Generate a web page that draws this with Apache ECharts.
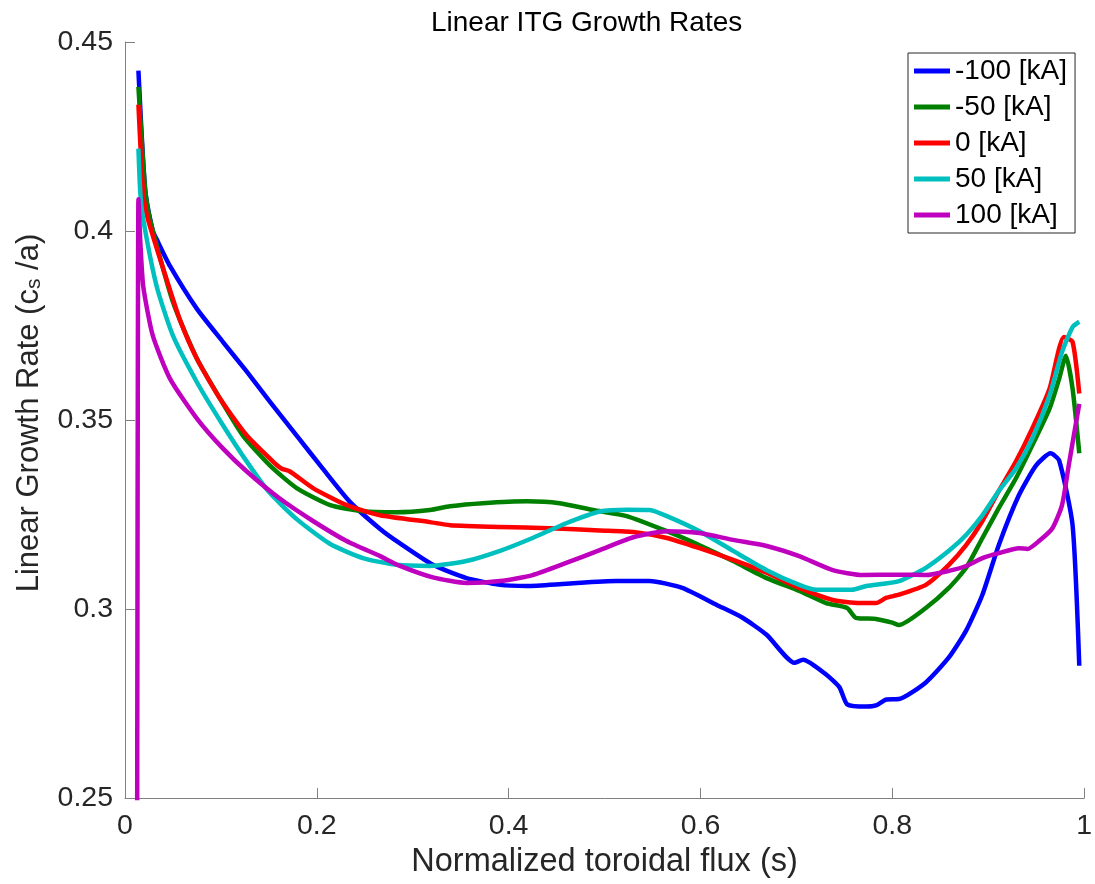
<!DOCTYPE html>
<html>
<head>
<meta charset="utf-8">
<script src="https://cdn.jsdelivr.net/npm/echarts@6/dist/echarts.min.js"></script>
<style>
  html, body { margin: 0; padding: 0; background: #fff; }
  #chart { width: 1095px; height: 884px; }
</style>
</head>
<body>
<div id="chart"></div>
<script>
// legend names
const names = ['-100 [kA]', '-50 [kA]', '0 [kA]', '50 [kA]', '100 [kA]']
const colors = ['#0000ff', '#008000', '#ff0000', '#00bfbf', '#bf00bf']

// [normalized toroidal flux, growth rate]
const iMinus100 = [
  [0.014,0.4424],[0.021,0.411],[0.029,0.400],[0.033,0.3978],[0.047,0.3907],[0.075,0.3794],
  [0.102,0.3707],[0.127,0.3628],[0.151,0.3549],[0.179,0.3459],[0.206,0.3372],[0.234,0.3285],
  [0.266,0.3212],[0.286,0.3175],[0.321,0.3117],[0.356,0.3082],[0.391,0.3064],[0.419,0.3061],
  [0.460,0.3067],[0.512,0.3074],[0.547,0.3074],[0.581,0.3056],[0.617,0.3011],[0.644,0.2977],
  [0.669,0.2932],[0.698,0.2858],[0.707,0.2866],[0.731,0.2827],[0.745,0.2793],[0.753,0.2748],
  [0.773,0.2742],[0.783,0.2745],[0.794,0.2761],[0.807,0.2762],[0.835,0.2806],[0.859,0.2872],
  [0.877,0.2943],[0.894,0.3038],[0.911,0.3169],[0.932,0.3301],[0.950,0.3380],[0.965,0.3412],
  [0.974,0.3393],[0.988,0.3222],[0.995,0.2850]
]
const iMinus50 = [
  [0.014,0.4381],[0.021,0.411],[0.026,0.4031],[0.050,0.3812],[0.075,0.3662],[0.099,0.3557],
  [0.123,0.3459],[0.151,0.3380],[0.179,0.3320],[0.214,0.3275],[0.248,0.3259],[0.283,0.3256],
  [0.318,0.3262],[0.339,0.3272],[0.373,0.3280],[0.419,0.3285],[0.453,0.3280],[0.488,0.3262],
  [0.523,0.3246],[0.565,0.3206],[0.599,0.3169],[0.634,0.3127],[0.669,0.3082],[0.703,0.3048],
  [0.731,0.3016],[0.753,0.3003],[0.762,0.2977],[0.783,0.2974],[0.800,0.2964],[0.807,0.2958],
  [0.835,0.3003],[0.859,0.3056],[0.877,0.3109],[0.894,0.3188],[0.911,0.3267],[0.929,0.3346],
  [0.946,0.3433],[0.964,0.3530],[0.974,0.3609],[0.981,0.3670],[0.988,0.3583],[0.995,0.3412]
]
const iZero = [
  [0.014,0.4334],[0.019,0.410],[0.024,0.4031],[0.040,0.3899],[0.057,0.3767],[0.075,0.3662],
  [0.099,0.3557],[0.127,0.3459],[0.154,0.3391],[0.163,0.3372],[0.172,0.3364],[0.196,0.3320],
  [0.231,0.3275],[0.266,0.3248],[0.318,0.3230],[0.339,0.3222],[0.391,0.3217],[0.443,0.3214],
  [0.495,0.3208],[0.530,0.3204],[0.565,0.3188],[0.599,0.3161],[0.634,0.3130],[0.669,0.3096],
  [0.703,0.3056],[0.738,0.3024],[0.766,0.3016],[0.783,0.3016],[0.794,0.3030],[0.807,0.3038],
  [0.835,0.3064],[0.859,0.3117],[0.877,0.3169],[0.894,0.3233],[0.911,0.3312],[0.929,0.3391],
  [0.946,0.3478],[0.964,0.3583],[0.979,0.3720],[0.988,0.3707],[0.995,0.3570]
]
const iPlus50 = [
  [0.014,0.4218],[0.016,0.410],[0.019,0.4031],[0.033,0.3854],[0.050,0.3723],[0.075,0.3600],
  [0.100,0.3495],[0.127,0.3390],[0.150,0.3310],[0.179,0.3238],[0.214,0.3172],[0.248,0.3135],
  [0.283,0.3117],[0.318,0.3114],[0.356,0.3127],[0.391,0.3154],[0.425,0.3188],[0.460,0.3227],
  [0.495,0.3258],[0.523,0.3263],[0.547,0.3262],[0.565,0.3246],[0.599,0.3206],[0.634,0.3154],
  [0.669,0.3103],[0.703,0.3064],[0.721,0.3051],[0.758,0.3051],[0.773,0.3061],[0.807,0.3074],
  [0.835,0.3109],[0.859,0.3154],[0.877,0.3196],[0.894,0.3248],[0.911,0.3312],[0.929,0.3372],
  [0.946,0.3451],[0.964,0.3565],[0.977,0.3680],[0.988,0.3746],[0.995,0.3760]
]
const iPlus100 = [
  [0.0125,0.20],[0.014,0.4084],[0.016,0.397],[0.019,0.3854],[0.029,0.3723],[0.047,0.3609],
  [0.075,0.3504],[0.102,0.3425],[0.127,0.3364],[0.161,0.3293],[0.196,0.3233],[0.231,0.3180],
  [0.266,0.3140],[0.286,0.3115],[0.321,0.3084],[0.356,0.3069],[0.391,0.3074],[0.425,0.3090],
  [0.460,0.3122],[0.495,0.3156],[0.530,0.3190],[0.565,0.3206],[0.599,0.3201],[0.634,0.3183],
  [0.669,0.3167],[0.703,0.3140],[0.738,0.3103],[0.769,0.3090],[0.807,0.3091],[0.835,0.3090],
  [0.859,0.3101],[0.877,0.3114],[0.894,0.3135],[0.911,0.3148],[0.932,0.3161],[0.941,0.3159],
  [0.953,0.3180],[0.967,0.3214],[0.977,0.3275],[0.984,0.3380],[0.995,0.3543]
]
const allData = [iMinus100, iMinus50, iZero, iPlus50, iPlus100]

const font = 'Liberation Sans, Helvetica, Arial, sans-serif'
const axisGray = '#808080'
const textDark = '#262626'

let myChart = echarts.init(document.getElementById('chart'))
let option = {
    backgroundColor: '#fff',
    animation: false,
    title: {
        text: 'Linear ITG Growth Rates',
        left: 426,
        top: 4,
        textStyle: { color: '#000', fontSize: 28, fontWeight: 'normal', fontFamily: font }
    },
    legend: {
        orient: 'vertical',
        left: 908,
        top: 53,
        padding: [4, 8, 4, 6],
        itemGap: 8,
        itemWidth: 36,
        itemHeight: 5,
        icon: 'rect',
        borderColor: '#262626',
        borderWidth: 1,
        backgroundColor: '#fff',
        textStyle: { color: '#000', fontSize: 28, fontFamily: font },
        data: names
    },
    grid: { left: 125, right: 9, top: 42, bottom: 83 },
    xAxis: {
        type: 'value',
        min: 0,
        max: 1,
        interval: 0.2,
        name: 'Normalized toroidal flux (s)',
        nameLocation: 'middle',
        nameGap: 42,
        nameTextStyle: { color: textDark, fontSize: 32.5, fontFamily: font },
        axisLine: { lineStyle: { color: axisGray, width: 1 } },
        axisTick: { inside: true, length: 10, lineStyle: { color: axisGray } },
        axisLabel: { color: textDark, fontSize: 28.5, fontFamily: font, margin: 14 },
        splitLine: { show: false }
    },
    yAxis: {
        type: 'value',
        min: 0.25,
        max: 0.45,
        interval: 0.05,
        name: 'Linear Growth Rate (c{sub|s} /a)',
        nameLocation: 'middle',
        nameGap: 80,
        nameRotate: 90,
        nameTextStyle: {
            color: textDark, fontSize: 31, fontFamily: font, lineHeight: 31,
            padding: [0, 0, 0, 14],
            rich: { sub: { fontSize: 21, fontFamily: font, color: textDark, lineHeight: 4, verticalAlign: 'bottom' } }
        },
        axisLine: { show: true, lineStyle: { color: axisGray, width: 1 } },
        axisTick: { show: true, inside: true, length: 10, lineStyle: { color: axisGray } },
        axisLabel: { color: textDark, fontSize: 28.5, fontFamily: font, margin: 12 },
        splitLine: { show: false }
    },
    series: names.map((n, i) => ({
        name: n,
        type: 'line',
        data: allData[i],
        symbol: 'none',
        clip: true,
        smooth: 0.2,
        color: colors[i],
        lineStyle: { color: colors[i], width: 4.5, join: 'round' }
    }))
}
myChart.setOption(option, true)
</script>
</body>
</html>
